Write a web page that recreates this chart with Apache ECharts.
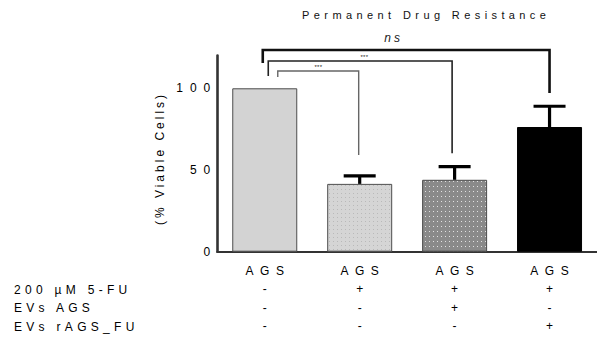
<!DOCTYPE html>
<html>
<head>
<meta charset="utf-8">
<script src="https://cdn.jsdelivr.net/npm/echarts@6/dist/echarts.min.js"></script>
<style>
  html, body { margin: 0; padding: 0; background: #fff; }
  #chart { width: 597px; height: 342px; }
</style>
</head>
<body>
<div id="chart"></div>
<script>
// ---- data ----
const categories = ['AGS', 'AGS', 'AGS', 'AGS'];
const meanViability = [100, 41.5, 44, 76.3];
const upperError = [100, 46.4, 52, 89];
const fuRow = ['-', '+', '+', '+'];
const evsAgsRow = ['-', '-', '+', '-'];
const evsRagsRow = ['-', '-', '-', '+'];
const rowLabels = ['200 µM 5-FU', 'EVs AGS', 'EVs rAGS_FU'];
const yTicks = [0, 50, 100];
const titleText = 'Permanent Drug Resistance';
const yName = '(% Viable Cells)';

// significance brackets: category span, bracket height, end heights, label
const bracketFrom = [0, 0, 0];
const bracketTo = [1, 2, 3];
const bracketTop = [110.6, 116.7, 123.4];
const bracketLeftEnd = [106.9, 107.5, 115.5];
const bracketRightEnd = [59.2, 60.2, 97.1];
const bracketLabels = ['***', '***', 'ns'];

// ---- styling ----
const FONT = 'Liberation Sans, Arial, Helvetica, sans-serif';
const bracketStyle = [
  { dxLeft: 13, dxRight: -1, width: 1.4, color: '#666', labelDx: 0, labelDy: -4, fontSize: 6, italic: false },
  { dxLeft: 3.5, dxRight: -2.5, width: 1.6, color: '#222', labelDx: 4, labelDy: -4, fontSize: 6, italic: false },
  { dxLeft: -2, dxRight: 0, width: 2.6, color: '#111', labelDx: -14, labelDy: -12, fontSize: 12, italic: true }
];

function dotTile(w, h, base, dot) {
  const c = document.createElement('canvas');
  c.width = w; c.height = h;
  const g = c.getContext('2d');
  g.fillStyle = base; g.fillRect(0, 0, w, h);
  g.fillStyle = dot; g.fillRect(1, 1, 1, 1);
  return { image: c.toDataURL(), repeat: 'repeat', imageWidth: w, imageHeight: h };
}
const barFills = [
  '#d3d3d3',
  dotTile(4, 4, '#d5d5d5', '#b9b9b9'),
  dotTile(4, 5, '#8a8a8a', '#e2e2e2'),
  '#000000'
];
const barBorders = ['#4d4d4d', '#4d4d4d', '#4d4d4d', '#000000'];

const chart = echarts.init(document.getElementById('chart'), null, { renderer: 'svg' });

const xLabels = categories.map((c, i) => [c, fuRow[i], evsAgsRow[i], evsRagsRow[i]].join('\n'));

chart.setOption({
  animation: false,
  backgroundColor: '#ffffff',
  grid: { left: 217.3, top: 55.6, bottom: 90.3, right: -10, containLabel: false },
  xAxis: {
    type: 'category',
    data: xLabels,
    axisLine: { lineStyle: { color: '#333', width: 2.2 } },
    axisTick: { show: false },
    axisLabel: {
      margin: 10, color: '#000', fontFamily: FONT, fontSize: 12, lineHeight: 18.5,
      interval: 0
    }
  },
  yAxis: {
    type: 'value', min: 0, max: 120, interval: 50,
    axisLine: { show: true, lineStyle: { color: '#333', width: 2.6 } },
    axisTick: { show: false },
    splitLine: { show: false },
    axisLabel: {
      margin: 0, color: '#000', fontFamily: FONT, fontSize: 12,
      showMaxLabel: false,
      formatter: v => (yTicks.indexOf(v) >= 0 ? String(v) : '')
    }
  },
  graphic: [
    { type: 'text', x: 424, y: 15, style: { text: titleText, fill: '#111', font: '11px ' + FONT, textAlign: 'center', textVerticalAlign: 'middle' } },
    { type: 'text', x: 160, y: 160, rotation: Math.PI / 2, style: { text: yName, fill: '#000', font: '12px ' + FONT, textAlign: 'center', textVerticalAlign: 'middle' } },
    ...rowLabels.map((t, k) => ({
      type: 'text', x: 14, y: 289.5 + k * 18.5,
      style: { text: t, fill: '#000', font: '12px ' + FONT, textAlign: 'left', textVerticalAlign: 'middle' }
    }))
  ],
  series: [
    {
      type: 'bar',
      barWidth: 65,
      data: meanViability.map((v, i) => ({
        value: v,
        itemStyle: { color: barFills[i], borderColor: barBorders[i], borderWidth: 1 }
      })),
      z: 2
    },
    {
      type: 'custom',
      z: 3,
      data: meanViability.map((v, i) => [i, v, upperError[i]]),
      encode: { x: 0, y: [1, 2] },
      renderItem(params, api) {
        const i = api.value(0), m = api.value(1), u = api.value(2);
        if (!(u > m)) return null;
        const p0 = api.coord([i, m]);
        const p1 = api.coord([i, u]);
        const half = 16;
        const s = { stroke: '#000', lineWidth: 3.2 };
        return {
          type: 'group',
          children: [
            { type: 'line', shape: { x1: p0[0], y1: p0[1], x2: p1[0], y2: p1[1] }, style: s },
            { type: 'line', shape: { x1: p1[0] - half, y1: p1[1], x2: p1[0] + half, y2: p1[1] }, style: s }
          ]
        };
      }
    },
    {
      type: 'custom',
      z: 4,
      clip: false,
      data: bracketFrom.map((f, k) => [f, bracketTo[k], bracketTop[k], bracketLeftEnd[k], bracketRightEnd[k], k]),
      encode: { x: [0, 1], y: [2, 3, 4] },
      renderItem(params, api) {
        const k = params.dataIndex;
        const st = bracketStyle[k];
        const a = api.value(0), b = api.value(1);
        const top = api.coord([a, api.value(2)])[1];
        const lEnd = api.coord([a, api.value(3)])[1];
        const rEnd = api.coord([b, api.value(4)])[1];
        const xl = api.coord([a, 0])[0] + st.dxLeft;
        const xr = api.coord([b, 0])[0] + st.dxRight;
        return {
          type: 'group',
          children: [
            {
              type: 'polyline',
              shape: { points: [[xl, lEnd], [xl, top], [xr, top], [xr, rEnd]] },
              style: { stroke: st.color, lineWidth: st.width, fill: null, lineJoin: 'miter' }
            },
            {
              type: 'text',
              x: (xl + xr) / 2 + st.labelDx, y: top + st.labelDy,
              style: {
                text: bracketLabels[k], fill: '#222',
                font: (st.italic ? 'italic ' : '') + st.fontSize + 'px ' + FONT,
                textAlign: 'center', textVerticalAlign: 'middle'
              }
            }
          ]
        };
      }
    }
  ]
});

// letter spacing of the printed labels; centred labels are nudged by half
// the trailing space so the glyphs stay centred on their anchor
function spacingFor(t) {
  if (t === 'AGS') return 6.5;
  if (/^\d+$/.test(t)) return 7;
  if (t === '***') return 0.3;
  if (t === 'ns') return 3;
  if (t === '+' || t === '-') return 0;
  if (t === yName) return 3;
  if (t === titleText) return 4.4;
  return 4.3;
}
document.querySelectorAll('#chart svg text').forEach(el => {
  const t = el.textContent;
  const s = spacingFor(t);
  if (!s) return;
  el.style.letterSpacing = s + 'px';
  if (el.getAttribute('text-anchor') === 'middle') el.setAttribute('dx', s / 2);
});
</script>
</body>
</html>
